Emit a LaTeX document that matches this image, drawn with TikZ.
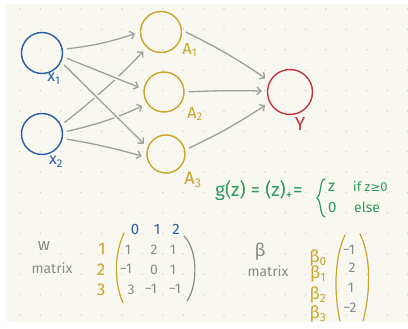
\documentclass[tikz,border=0pt]{standalone}
\usepackage{fontspec}
\setmainfont{Fira Sans}
\newfontfamily\dv{DejaVu Sans}
\usetikzlibrary{arrows.meta}
\definecolor{bg}{HTML}{F8F8F1}
\definecolor{inkblue}{HTML}{2B5DA6}
\definecolor{gold}{HTML}{C9A42A}
\definecolor{inkred}{HTML}{C8343C}
\definecolor{inkgreen}{HTML}{2E9960}
\definecolor{arrowgray}{HTML}{A0A0A0}
\definecolor{textgray}{HTML}{8A8A8A}
\definecolor{dotgray}{HTML}{D2D2CC}
\tikzset{
  neuron/.style={circle, minimum size=41, inner sep=0, line width=1.4},
  lab/.style={font=\fontsize{16}{16}\selectfont, inner sep=0},
  arr/.style={draw=arrowgray, line width=1.3, -{Straight Barb[length=4,width=8]}, shorten >=5, shorten <=4},
  halo/.style={preaction={draw=bg, line width=4.5, -, shorten >=8, shorten <=6}},
  entry/.style={text=textgray, font=\fontsize{14}{14}\selectfont, inner sep=0},
  gtext/.style={text=textgray, font=\fontsize{14}{14}\selectfont, inner sep=0},
  rowlab/.style={text=gold, font=\fontsize{17}{17}\selectfont, inner sep=0},
  collab/.style={text=inkblue, font=\fontsize{15}{15}\selectfont, inner sep=0},
  paren/.style={line width=1.2, line cap=round},
  formula/.style={text=inkgreen, inner sep=0}
}
\begin{document}
\begin{tikzpicture}[x=1pt,y=-1pt]
\useasboundingbox (0,0) rectangle (408,329);
\fill[white] (0,0) rectangle (408,329);
\fill[bg] (6,4) rectangle (408,322);
\foreach \i in {0,...,19} \foreach \j in {0,...,15} \fill[dotgray] ({20+20.4*\i},{9+20.4*\j}) circle (0.8);

% neurons
\node[neuron, draw=inkblue] (x1) at (42,53) {};
\node[neuron, draw=inkblue] (x2) at (42,134) {};
\node[neuron, draw=gold] (a1) at (161,32) {};
\node[neuron, draw=gold, minimum size=40] (a2) at (164,92) {};
\node[neuron, draw=gold, minimum size=38] (a3) at (166,154) {};
\node[neuron, draw=inkred, minimum size=45] (y) at (290,92) {};

% labels
\node[lab, text=inkblue] (lx1) at (54,79) {x\textsubscript{1}};
\node[lab, text=inkblue] (lx2) at (56,162) {x\textsubscript{2}};
\node[lab, text=gold] (la1) at (190,50) {A\textsubscript{1}};
\node[lab, text=gold] (la2) at (195,114) {A\textsubscript{2}};
\node[lab, text=gold, font=\fontsize{18}{18}\selectfont] (la3) at (193,180) {A\textsubscript{3}};
\node[lab, text=inkred, font=\fontsize{19}{19}\selectfont] (ly) at (300,124) {Y};

% arrows from x2 (underneath)
\draw[arr] (x2.25) to[bend right=4] (a1.228);
\draw[arr] (x2.5) to[bend right=6] (a2.215);
\draw[arr] (x2.-12) to[bend left=3] (a3.190);
% arrows from x1 (on top)
\draw[arr, halo] (x1.10) to[bend right=6] (a1.180);
\draw[arr, halo] (x1.-10) to (a2.172);
\draw[arr, halo] (x1.-25) to (a3.160);
% to output
\draw[arr] (a1.5) to[bend right=-4] (y.152);
\draw[arr] (a2.0) to[bend right=-2] (y.178);
\draw[arr] (a3.12) to[bend right=4] (y.207);

% activation formula
\node[formula, anchor=base west, font=\fontsize{19}{19}\selectfont] (gf) at (215,197) {g(z) = (z)\textsubscript{+}=};
\coordinate (bt) at (325,179);
\coordinate (bb) at (325,217);
\draw[inkgreen, line width=1.2, line cap=round] (bt) .. controls (319,180) and (322,194) .. (317,198) .. controls (322,202) and (319,215) .. (bb);
\node[formula, anchor=base west, font=\fontsize{16}{16}\selectfont] (c1a) at (328,192) {z};
\node[formula, anchor=base west, font=\fontsize{13}{13}\selectfont] (c1b) at (353,192) {if z{\dv\fontsize{12}{12}\selectfont ≥}0};
\node[formula, anchor=base west, font=\fontsize{15}{15}\selectfont] (c2a) at (328,213) {0};
\node[formula, anchor=base west, font=\fontsize{14}{14}\selectfont] (c2b) at (354,213) {else};

% W matrix
\node[gtext, font=\fontsize{17}{17}\selectfont] (wsym) at (44,246) {w};
\node[gtext] (wmat) at (52,268) {matrix};
\node[collab] (c0) at (135,229) {0};
\node[collab] (c1) at (157,229) {1};
\node[collab] (c2) at (176,229) {2};
\node[rowlab] (r1) at (102,249) {1};
\node[rowlab] (r2) at (101,270) {2};
\node[rowlab] (r3) at (101,290) {3};
\node[entry] (w11) at (128,250) {1};
\node[entry] (w12) at (154,250) {2};
\node[entry] (w13) at (173,250) {1};
\node[entry] (w21) at (126,269) {−1};
\node[entry] (w22) at (154,270) {0};
\node[entry] (w23) at (173,270) {1};
\node[entry] (w31) at (131,290) {3};
\node[entry] (w32) at (151,289) {−1};
\node[entry] (w33) at (175,289) {−1};
\draw[paren, gold] (124,233) .. controls (114,255) and (114,282) .. (123,303);
\draw[paren, textgray] (184,236) .. controls (198,250) and (198,285) .. (187,301);

% beta vector
\node[gtext, font=\fontsize{18}{18}\selectfont] (bsym) at (260,252) {β};
\node[gtext] (bmat) at (268,271) {matrix};
\node[rowlab] (b0) at (318,258) {β\textsubscript{0}};
\node[rowlab] (b1) at (318,274) {β\textsubscript{1}};
\node[rowlab] (b2) at (318,295) {β\textsubscript{2}};
\node[rowlab] (b3) at (318,314) {β\textsubscript{3}};
\node[entry] (v0) at (349,250) {−1};
\node[entry] (v1) at (352,268) {2};
\node[entry] (v2) at (351,288) {1};
\node[entry] (v3) at (350,308) {−2};
\draw[paren, gold] (345,235) .. controls (334,258) and (334,295) .. (340,321);
\draw[paren, gold] (360,234) .. controls (372,258) and (370,295) .. (363,321);
\end{tikzpicture}
\end{document}
